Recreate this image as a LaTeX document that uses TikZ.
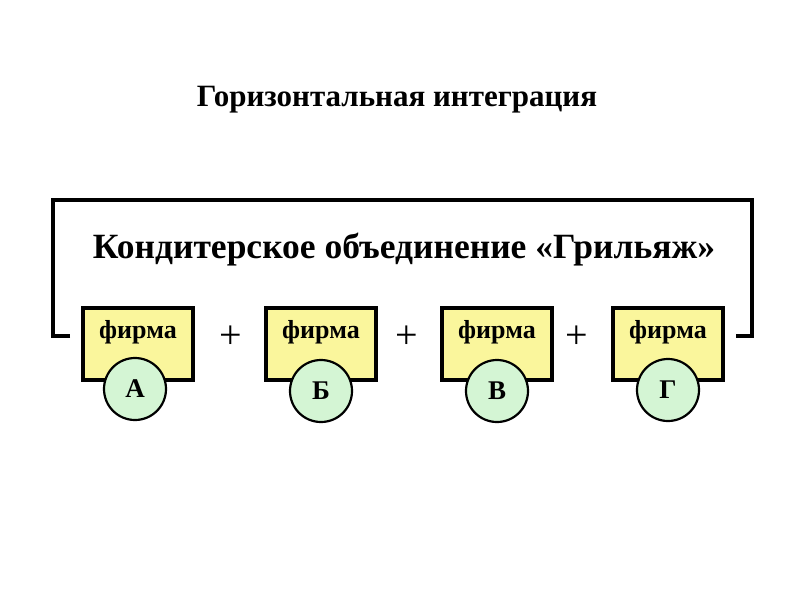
\documentclass[tikz,border=0pt]{standalone}
\usepackage{fontspec}
\setmainfont{Liberation Serif}
\definecolor{firmyellow}{HTML}{FAF69C}
\definecolor{firmgreen}{HTML}{D4F5D4}

\begin{document}
\begin{tikzpicture}[x=1pt, y=-1pt,
  firmbox/.style={draw, line width=3.5pt, fill=firmyellow, minimum width=110pt, minimum height=72pt, inner sep=0pt},
  firmlabel/.style={font=\fontsize{26}{28}\selectfont\bfseries, inner sep=0pt},
  firmcircle/.style={circle, draw, line width=2.2pt, fill=firmgreen, minimum size=62pt, inner sep=0pt, font=\fontsize{27}{29}\selectfont\bfseries},
  plus/.style={font=\fontsize{40}{42}\selectfont, inner sep=0pt}]
  \useasboundingbox (0,0) rectangle (800,600);
  \fill[white] (0,0) rectangle (800,600);
  % title
  \node[font=\fontsize{31}{33}\selectfont\bfseries] (title) at (397,100) {Горизонтальная интеграция};
  % bracket round the union
  \coordinate (brLeftEnd) at (70,336);
  \coordinate (brLeftTop) at (53,200);
  \coordinate (brRightTop) at (752,200);
  \coordinate (brRightEnd) at (736,336);
  \draw[line width=3.5pt] (brLeftEnd) -| (brLeftTop) -- (brRightTop) |- (brRightEnd);
  \node[font=\fontsize{35.5}{38}\selectfont\bfseries] (union) at (404,250) {Кондитерское объединение «Грильяж»};
  % firms
  \node[firmbox] (boxA) at (138,344) {};
  \node[firmbox] (boxB) at (321,344) {};
  \node[firmbox] (boxV) at (497,344) {};
  \node[firmbox] (boxG) at (668,344) {};
  \node[firmlabel] (textA) at (138,332) {фирма};
  \node[firmlabel] (textB) at (321,332) {фирма};
  \node[firmlabel] (textV) at (497,332) {фирма};
  \node[firmlabel] (textG) at (668,332) {фирма};
  \node[firmcircle] (circA) at (135,389) {А};
  \node[firmcircle] (circB) at (321,391) {Б};
  \node[firmcircle] (circV) at (497,391) {В};
  \node[firmcircle] (circG) at (668,390) {Г};
  \node[plus] (plusAB) at (231,337) {+};
  \node[plus] (plusBV) at (407,337) {+};
  \node[plus] (plusVG) at (577,337) {+};
\end{tikzpicture}
\end{document}
